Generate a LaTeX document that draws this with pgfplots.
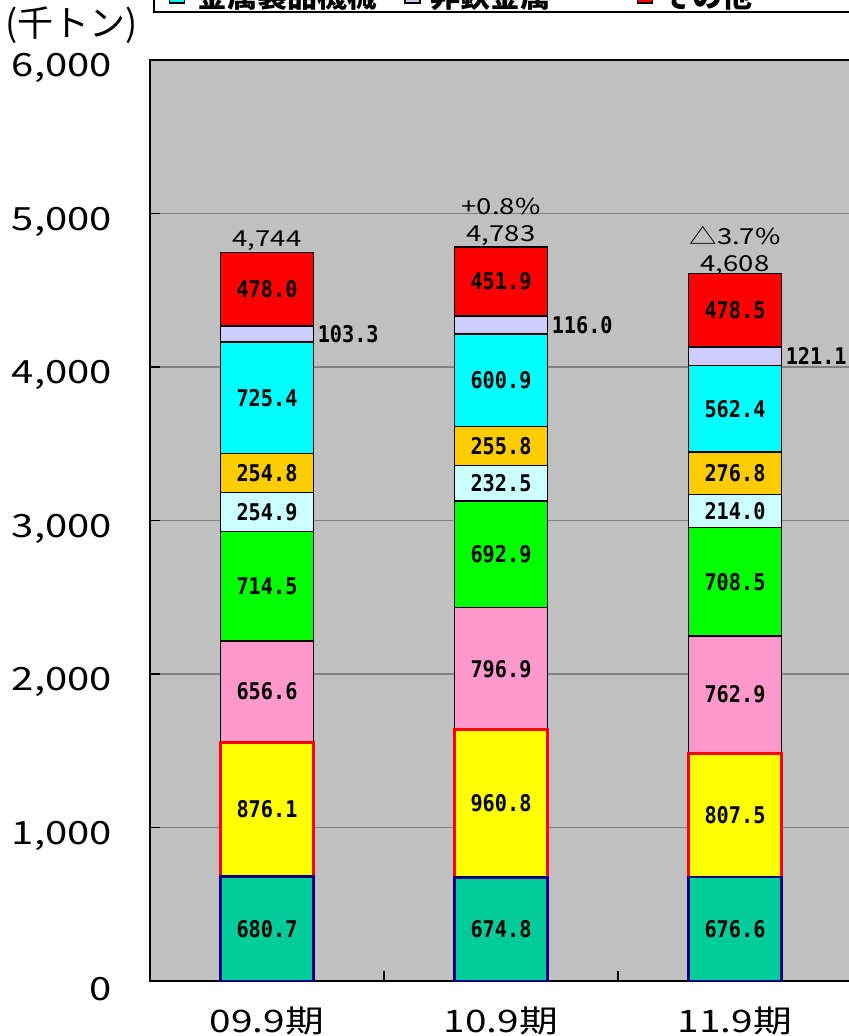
\documentclass[border=0pt]{standalone}
\usepackage{fontspec}
\usepackage{pgfplots}
\pgfplotsset{compat=1.18}
\usepackage{pgfplotstable}
\newfontfamily\jpfont{Noto Sans CJK JP}
\newfontfamily\tickfam[FakeStretch=1.25]{Noto Sans CJK JP}
\newfontfamily\labfam[FakeStretch=0.88]{DejaVu Sans Mono}
\definecolor{bg}{HTML}{C0C0C0}
\definecolor{gridgray}{HTML}{808080}
\definecolor{c1}{HTML}{00CC99}
\definecolor{c2}{HTML}{FFFF00}
\definecolor{c3}{HTML}{FF99CC}
\definecolor{c4}{HTML}{00FF00}
\definecolor{c5}{HTML}{CCFFFF}
\definecolor{c6}{HTML}{FFCC00}
\definecolor{c7}{HTML}{00FFFF}
\definecolor{c8}{HTML}{CCCCFF}
\definecolor{c9}{HTML}{FF0000}
\definecolor{navy}{HTML}{000080}

\pgfplotstableread{
x s1 s2 s3 s4 s5 s6 s7 s8 s9
0 680.7 876.1 656.6 714.5 254.9 254.8 725.4 103.3 478.0
1 674.8 960.8 796.9 692.9 232.5 255.8 600.9 116.0 451.9
2 676.6 807.5 762.9 708.5 214.0 276.8 562.4 121.1 478.5
}\datatable

\pgfplotsset{
  seg/.style={
    draw=black, line width=1.5bp, fill=#1,
    nodes near coords={\pgfmathprintnumber[fixed,fixed zerofill,precision=1]{\pgfplotspointmeta}},
    point meta=explicit,
    every node near coord/.style={
      font=\labfam\bfseries\fontsize{23bp}{26bp}\selectfont,
      text=black, anchor=center, inner sep=0pt
    }
  },
  sidelab/.style={
    every node near coord/.style={
      font=\labfam\bfseries\fontsize{23bp}{26bp}\selectfont,
      text=black, anchor=west, inner sep=0pt,
      xshift=50bp
    }
  },
  sqleg/.style={legend image code/.code={%
    \draw[fill=#1,draw=black,line width=1.5bp] (0bp,-7.5bp) rectangle (15bp,7.5bp);}}
}

\begin{document}
\begin{tikzpicture}
\begin{axis}[
  width=702bp, height=921bp, scale only axis,
  xmin=-0.5, xmax=2.5, ymin=0, ymax=6000,
  ybar stacked, bar width=93bp,
  axis background/.style={fill=bg},
  axis line style={black, line width=1.5bp},
  ymajorgrids, grid style={draw=gridgray, line width=1.5bp},
  xtick={0,1,2}, xticklabels={09.9期,10.9期,11.9期},
  minor xtick={0.5,1.5},
  major x tick style={draw=none},
  minor x tick style={black, line width=1.5bp},
  ytick={0,1000,...,6000},
  ytick style={black, line width=1.5bp},
  major tick length=10bp, minor tick length=10bp,
  tick align=inside, tick pos=left,
  /pgf/number format/assume math mode=true,
  /pgf/number format/1000 sep={,},
  yticklabel style={font=\tickfam\fontsize{32bp}{36bp}\selectfont, inner sep=0pt, anchor=east, xshift=-38bp, yshift=-8bp},
  xticklabel style={font=\tickfam\fontsize{31bp}{36bp}\selectfont, inner sep=0pt, anchor=north, yshift=-26bp},
  legend columns=3,
  legend style={at={(0.0043,1.051)}, anchor=south west, draw=black, line width=1.8bp, fill=white,
    inner xsep=15bp, inner ysep=3bp, column sep=0pt,
    font=\jpfont\bfseries\fontsize{30bp}{34bp}\selectfont,
    nodes={inner sep=0pt}, cells={anchor=west}},
]
\addplot[seg=c1, draw=navy, line width=2.5bp, forget plot] table[x=x, y=s1, meta=s1] {\datatable};
\addplot[seg=c2, draw=red, line width=3bp, forget plot] table[x=x, y=s2, meta=s2] {\datatable};
\addplot[seg=c3, forget plot] table[x=x, y=s3, meta=s3] {\datatable};
\addplot[seg=c4, forget plot] table[x=x, y=s4, meta=s4] {\datatable};
\addplot[seg=c5, forget plot] table[x=x, y=s5, meta=s5] {\datatable};
\addplot[seg=c6, forget plot] table[x=x, y=s6, meta=s6] {\datatable};
\addplot[seg=c7, sqleg=c7] table[x=x, y=s7, meta=s7] {\datatable};
\addlegendentry{\makebox[219bp][l]{\hspace{12bp}金属製品機械}}
\addplot[seg=c8, sidelab, sqleg=c8] table[x=x, y=s8, meta=s8] {\datatable};
\addlegendentry{\makebox[216bp][l]{\hspace{10bp}非鉄金属}}
\addplot[seg=c9, sqleg=c9] table[x=x, y=s9, meta=s9] {\datatable};
\addlegendentry{\makebox[260bp][l]{\hspace{9bp}その他}}

\node[font=\tickfam\fontsize{22bp}{24bp}\selectfont, anchor=center] at (axis cs:0,4744.3) [yshift=12bp] {4,744};
\node[font=\tickfam\fontsize{22bp}{24bp}\selectfont, anchor=center] at (axis cs:1,4782.5) [yshift=11bp] {4,783};
\node[font=\tickfam\fontsize{22bp}{24bp}\selectfont, anchor=center] at (axis cs:1,4782.5) [yshift=40bp] {+0.8\%};
\node[font=\tickfam\fontsize{22bp}{24bp}\selectfont, anchor=center] at (axis cs:2,4608.3) [yshift=8bp] {4,608};
\node[font=\tickfam\fontsize{22bp}{24bp}\selectfont, anchor=center] at (axis cs:2,4608.3) [yshift=38bp] {△3.7\%};

\coordinate (SW) at (rel axis cs:0,0);
\coordinate (NE) at (rel axis cs:1,1);
\coordinate (NW) at (rel axis cs:0,1);
\end{axis}
\node[font=\jpfont\fontsize{36bp}{40bp}\selectfont, anchor=west, inner sep=0pt] at ([xshift=-145bp, yshift=35bp]NW) {(千トン)};
\pgfresetboundingbox
\path[use as bounding box] ([xshift=-150bp,yshift=-55bp]SW) rectangle ([xshift=-3bp,yshift=60bp]NE);
\end{tikzpicture}
\end{document}
